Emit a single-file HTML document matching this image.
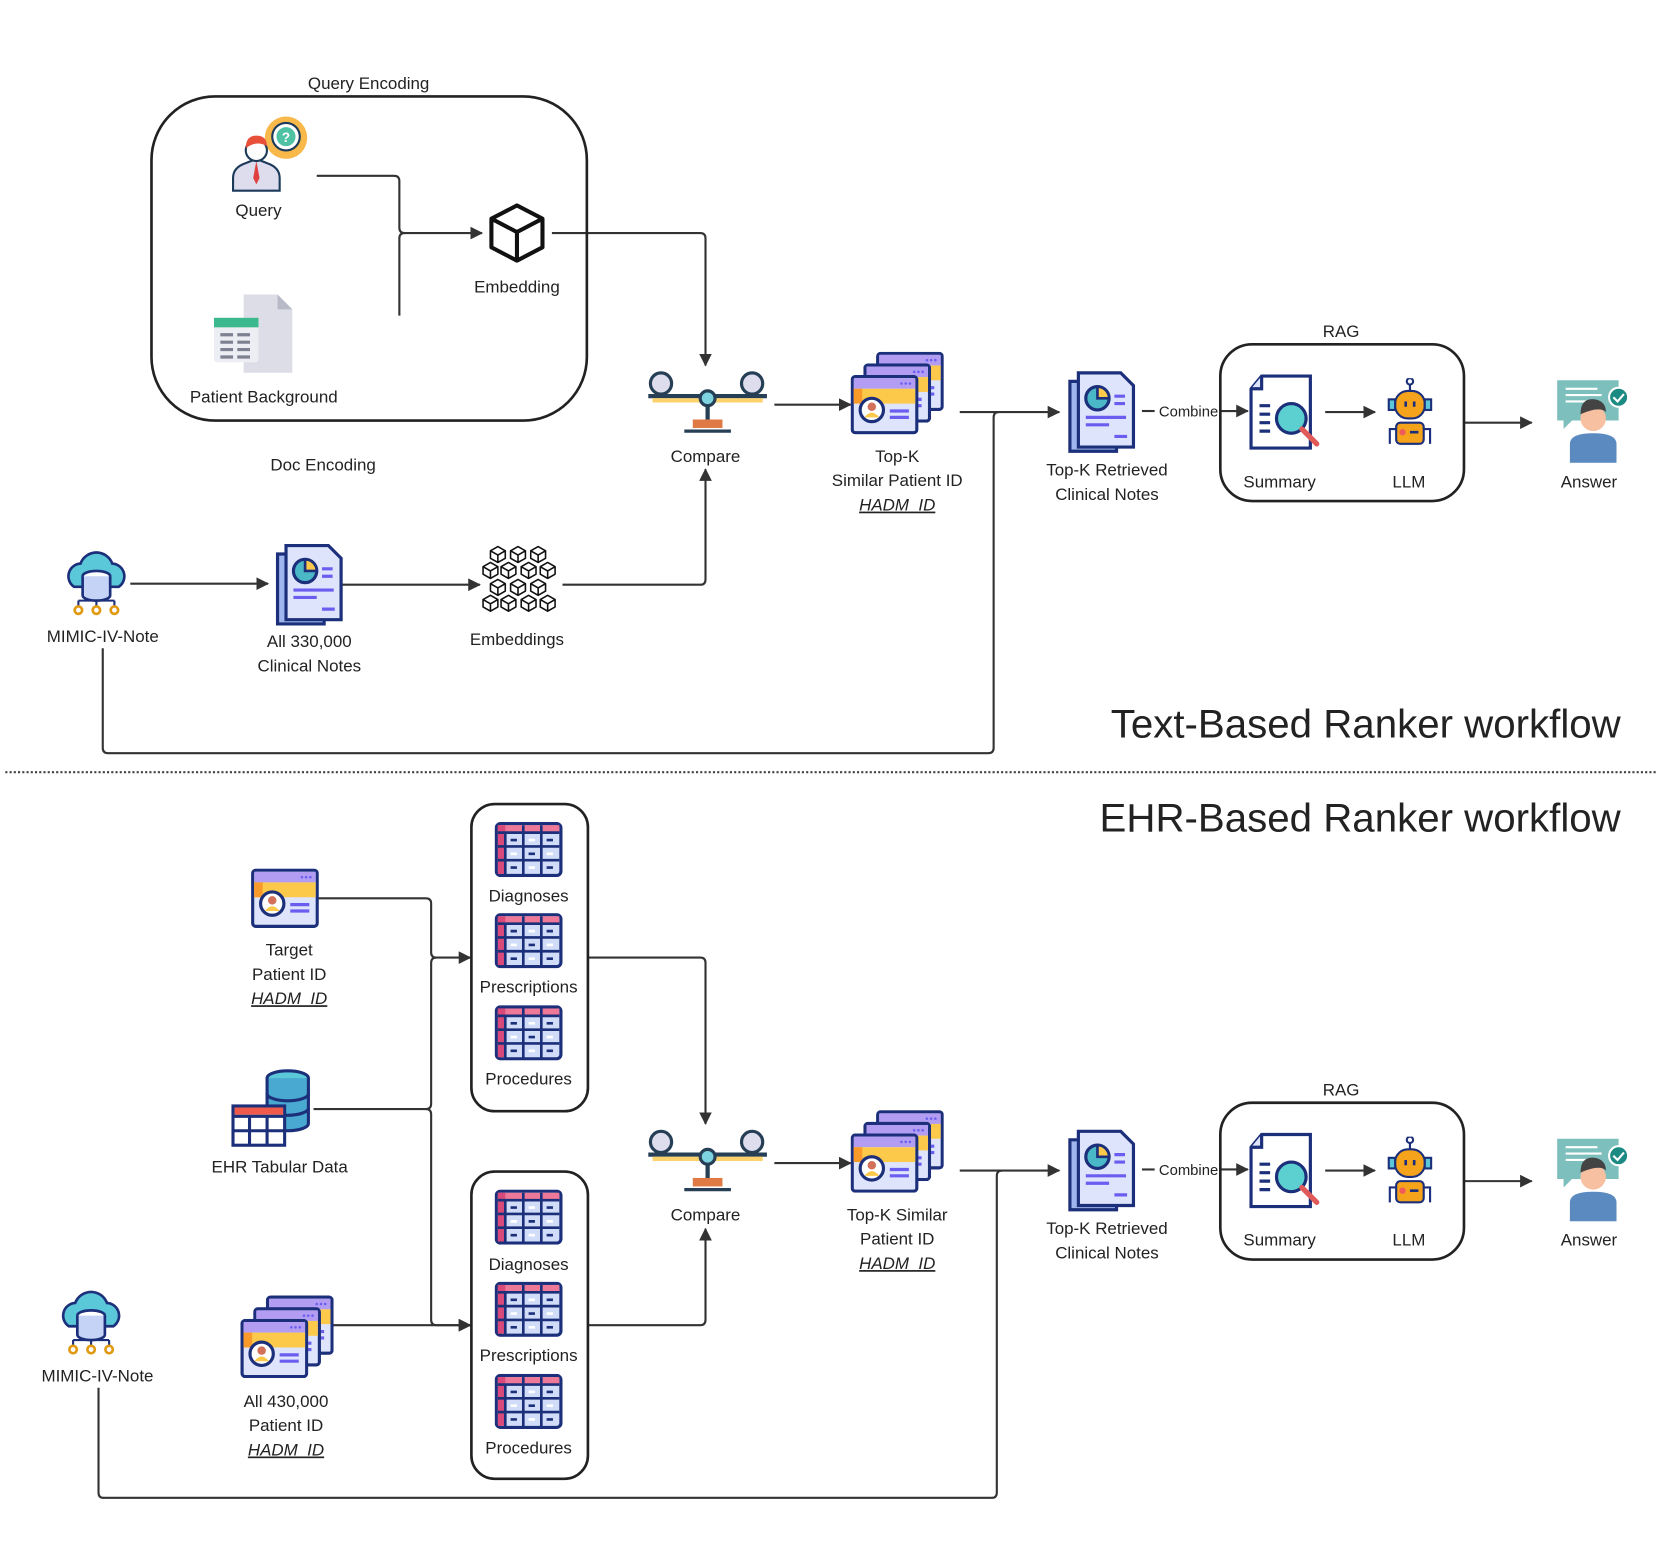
<!DOCTYPE html>
<html><head><meta charset="utf-8"><style>
html,body{margin:0;padding:0;background:#fff;}
svg{display:block;}
text{font-family:"Liberation Sans",sans-serif;fill:#222;}
</style></head><body>
<svg width="1661" height="1545" viewBox="0 0 1568 1458.5" xmlns="http://www.w3.org/2000/svg">
<defs>
<marker id="ar" markerWidth="12" markerHeight="12" refX="11" refY="6" orient="auto" markerUnits="userSpaceOnUse"><path d="M0,0 L12,6 L0,12 z" fill="#333"/></marker>
<symbol id="tbl" viewBox="0 0 64 52">
<rect x="1.5" y="1.5" width="61" height="49" rx="4" fill="#d0dcf8" stroke="#1c2f7a" stroke-width="3"/>
<rect x="3" y="3" width="58" height="7" fill="#ee7898"/>
<rect x="3" y="3" width="7" height="46" fill="#d94a7a"/>
<path d="M10 10V50M27 3V50M44 3V50M3 10H61M3 23H61M3 36H61" stroke="#1c2f7a" stroke-width="2.5" fill="none"/>
<path d="M15 17h6M32 30h6M49 17h6M15 43h6M49 43h6" stroke="#1c2f7a" stroke-width="2.5"/>
<path d="M32 17h6M15 30h6M49 30h6M32 43h6" stroke="#fff" stroke-width="2.5"/>
</symbol>
<symbol id="card" viewBox="0 0 64 56">
<rect x="1.5" y="1.5" width="61" height="53" rx="3" fill="#dde4fb" stroke="#1c2f7a" stroke-width="3"/>
<rect x="3" y="3" width="58" height="10" fill="#b39df2"/>
<rect x="3" y="13" width="58" height="14" fill="#fdc94a"/>
<rect x="3" y="13" width="8" height="14" fill="#f99a2a"/>
<circle cx="20" cy="33" r="11" fill="#fff" stroke="#1c2f7a" stroke-width="3"/>
<circle cx="20" cy="30" r="4" fill="#d2705a"/>
<path d="M13 40q7-9 14 0" fill="#fdc94a"/>
<path d="M37 34h18M37 40h18" stroke="#6a5ef0" stroke-width="3"/>
<circle cx="48" cy="8" r="1.2" fill="#6a5ef0"/><circle cx="52" cy="8" r="1.2" fill="#6a5ef0"/><circle cx="56" cy="8" r="1.2" fill="#6a5ef0"/>
</symbol>
<symbol id="stack" viewBox="0 0 88 78">
<use href="#card" x="24" y="0" width="64" height="56"/>
<use href="#card" x="12" y="11" width="64" height="56"/>
<use href="#card" x="0" y="22" width="64" height="56"/>
</symbol>
<symbol id="notes" viewBox="0 0 64 78">
<path d="M2 10h44v66H2z" fill="#9fb6ee" stroke="#1c2f7a" stroke-width="3"/>
<path d="M10 2h40l12 12v58H10z" fill="#dde4fb" stroke="#1c2f7a" stroke-width="3"/>
<circle cx="28" cy="26" r="11" fill="#4bb8c8" stroke="#1c2f7a" stroke-width="3"/>
<path d="M28 15v11h11a11 11 0 0 0-11-11z" fill="#fdc94a" stroke="#1c2f7a" stroke-width="2.5"/>
<path d="M44 24h10M44 31h10M17 44h38M17 51h22M44 62h12" stroke="#6a5ef0" stroke-width="3"/>
</symbol>
<symbol id="scale" viewBox="0 0 116 60">
<circle cx="14" cy="12" r="10" fill="#dde" stroke="#263f55" stroke-width="3"/>
<circle cx="100" cy="12" r="10" fill="#dde" stroke="#263f55" stroke-width="3"/>
<path d="M2 24h112" stroke="#263f55" stroke-width="4"/>
<path d="M6 28h104" stroke="#fdd26a" stroke-width="4"/>
<circle cx="58" cy="26" r="7" fill="#7dd3e0" stroke="#263f55" stroke-width="3"/>
<path d="M58 33v14" stroke="#263f55" stroke-width="4"/>
<rect x="44" y="46" width="28" height="8" fill="#e07a45"/>
<path d="M36 57h44" stroke="#263f55" stroke-width="3"/>
</symbol>
<symbol id="mimic" viewBox="0 0 62 62">
<path d="M10 34a12 12 0 0 1 6-22a16 16 0 0 1 30 0a12 12 0 0 1 6 22z" fill="#5ac8d8" stroke="#1c2f7a" stroke-width="2.5"/>
<ellipse cx="31" cy="24" rx="13" ry="5" fill="#fff" stroke="#1c2f7a" stroke-width="2.5"/>
<path d="M18 24v18a13 5 0 0 0 26 0V24" fill="#c5d3f7" stroke="#1c2f7a" stroke-width="2.5"/>
<path d="M31 47v6M14 47v6M48 47v6M14 47h34" stroke="#1c2f7a" stroke-width="2"/>
<circle cx="14" cy="56" r="3.5" fill="#fff" stroke="#e09a10" stroke-width="2.5"/>
<circle cx="31" cy="56" r="3.5" fill="#fff" stroke="#e09a10" stroke-width="2.5"/>
<circle cx="48" cy="56" r="3.5" fill="#fff" stroke="#e09a10" stroke-width="2.5"/>
</symbol>
<symbol id="summ" viewBox="0 0 72 72">
<path d="M12 2h46v68H2V14z" fill="#fff" stroke="#1c2f7a" stroke-width="3"/>
<path d="M2 14h10V2" fill="#dde4fb" stroke="#1c2f7a" stroke-width="3"/>
<path d="M10 30h10M10 38h10M10 46h10M10 54h10" stroke="#1c2f7a" stroke-width="3"/>
<circle cx="40" cy="42" r="14" fill="#5ccfd0" stroke="#1c2f7a" stroke-width="3"/>
<path d="M50 52l14 14" stroke="#e05a5a" stroke-width="5" stroke-linecap="round"/>
</symbol>
<symbol id="llm" viewBox="0 0 52 66">
<circle cx="26" cy="3" r="3" fill="none" stroke="#1c2f7a" stroke-width="2"/>
<path d="M26 6v6" stroke="#1c2f7a" stroke-width="2"/>
<rect x="12" y="12" width="28" height="26" rx="12" fill="#f5a31a" stroke="#1c2f7a" stroke-width="2"/>
<rect x="6" y="20" width="6" height="10" fill="#5ac8d8" stroke="#1c2f7a" stroke-width="2"/><rect x="40" y="20" width="6" height="10" fill="#5ac8d8" stroke="#1c2f7a" stroke-width="2"/>
<path d="M22 22v5M30 22v5" stroke="#1c2f7a" stroke-width="2.5"/>
<rect x="13" y="42" width="26" height="20" rx="4" fill="#f5a31a" stroke="#1c2f7a" stroke-width="2"/>
<circle cx="19" cy="51" r="3" fill="#f05a5a"/><path d="M26 51h8" stroke="#1c2f7a" stroke-width="2.5"/>
<path d="M13 48h-6v14M39 48h6v14" stroke="#1c2f7a" stroke-width="2" fill="none"/>
</symbol>
<symbol id="ans" viewBox="0 0 72 80">
<path d="M2 2h58v38H16l-8 8v-8H2z" fill="#7dbfbc"/>
<path d="M10 10h30M10 16h34M10 22h22" stroke="#fff" stroke-width="2"/>
<circle cx="60" cy="18" r="9" fill="#1a8a82" stroke="#fff" stroke-width="2"/>
<path d="M55 18l4 4 6-7" stroke="#fff" stroke-width="2" fill="none"/>
<circle cx="36" cy="38" r="12" fill="#f7c0a0"/>
<path d="M24 34q0-16 14-14q10 2 10 12q-6-6-24 2z" fill="#444"/>
<path d="M14 80V62q0-10 22-10q22 0 22 10v18z" fill="#5a8ac0"/>
</symbol>
<symbol id="cube" viewBox="0 0 56 60">
<path d="M28 3L53 16V44L28 57L3 44V16z M3 16L28 29L53 16 M28 29V57" fill="#fff" stroke="#111" stroke-width="4" stroke-linejoin="round"/>
</symbol>
<symbol id="mc" viewBox="0 0 16 17"><path d="M8 1l7 4v7l-7 4l-7-4V5z M1 5l7 4l7-4 M8 9v7" fill="#fff" stroke="#111" stroke-width="1.5" stroke-linejoin="round"/></symbol>
<symbol id="query" viewBox="0 0 74 72">
<circle cx="52" cy="20" r="20" fill="#f8b84a"/>
<circle cx="52" cy="19" r="13" fill="#fff" stroke="#1c3a5a" stroke-width="2"/>
<circle cx="52" cy="19" r="9" fill="#4fc2a4"/>
<text x="52" y="24" font-size="13" text-anchor="middle" style="fill:#fff;font-weight:bold">?</text>
<path d="M2 70V58q0-10 12-14l10-4l10 4q12 4 12 14v12z" fill="#dde" stroke="#1c3a5a" stroke-width="2"/>
<path d="M24 42l-3 16l3 6l3-6z" fill="#e04040"/>
<circle cx="24" cy="32" r="10" fill="#fff" stroke="#1c3a5a" stroke-width="2"/>
<path d="M14 30q0-12 10-12q10 0 10 10q-10-6-20 2z" fill="#e8503a"/>
</symbol>
<symbol id="pbg" viewBox="0 0 76 76">
<path d="M30 2h32l14 14v60H30z" fill="#dcdde6"/>
<path d="M62 2v14h14" fill="#b8bac8"/>
<rect x="2" y="24" width="42" height="42" rx="3" fill="#eceef4"/>
<rect x="2" y="24" width="42" height="9" fill="#3cb88e"/>
<path d="M8 40h12M24 40h12M8 47h12M24 47h12M8 54h12M24 54h12M8 61h12M24 61h12" stroke="#7d8190" stroke-width="3"/>
</symbol>
<symbol id="ehr" viewBox="0 0 80 76">
<ellipse cx="55" cy="9" rx="20" ry="7" fill="#5ac8d8" stroke="#1c2f7a" stroke-width="3"/>
<path d="M35 9v44a20 7 0 0 0 40 0V9" fill="#4aa9d0" stroke="#1c2f7a" stroke-width="3"/>
<path d="M35 24a20 7 0 0 0 40 0M35 38a20 7 0 0 0 40 0" fill="none" stroke="#1c2f7a" stroke-width="3"/>
<rect x="2" y="36" width="50" height="38" fill="#fff" stroke="#1c2f7a" stroke-width="3"/>
<rect x="3.5" y="37.5" width="47" height="7" fill="#f05a4a"/>
<path d="M2 46h50M2 60h50M18 46v28M35 46v28" stroke="#1c2f7a" stroke-width="3"/>
</symbol>
</defs>

<g fill="none" stroke="#333" stroke-width="2">
<path d="M299 166H372q5 0 5 5V215q0 5 5 5H455" marker-end="url(#ar)"/>
<path d="M377 298V225q0-5 5-5"/>
<path d="M521 220H661q5 0 5 5V345" marker-end="url(#ar)"/>
<path d="M731 382H803" marker-end="url(#ar)"/>
<path d="M906 389H1000" marker-end="url(#ar)"/>
<path d="M97 612V706q0 5 5 5H933q5 0 5-5V394q0-5 5-5"/>
<path d="M1078 388H1090"/>
<path d="M1152 388H1178" marker-end="url(#ar)"/>
<path d="M1251 389H1298" marker-end="url(#ar)"/>
<path d="M1383 399H1446" marker-end="url(#ar)"/>
<path d="M123 551H253" marker-end="url(#ar)"/>
<path d="M323 552H453" marker-end="url(#ar)"/>
<path d="M531 552H661q5 0 5-5V443" marker-end="url(#ar)"/>
<path d="M300 848H402q5 0 5 5V899q0 5 5 5H444" marker-end="url(#ar)"/>
<path d="M296 1047H402q5 0 5-5V909q0-5 5-5"/>
<path d="M402 1047q5 0 5 5V1246q0 5 5 5H444" marker-end="url(#ar)"/>
<path d="M314 1251H444" marker-end="url(#ar)"/>
<path d="M555 904H661q5 0 5 5V1061" marker-end="url(#ar)"/>
<path d="M555 1251H661q5 0 5-5V1160" marker-end="url(#ar)"/>
<path d="M731 1098H803" marker-end="url(#ar)"/>
<path d="M906 1105H1000" marker-end="url(#ar)"/>
<path d="M93 1310V1409q0 5 5 5H936q5 0 5-5V1110q0-5 5-5"/>
<path d="M1078 1104H1090"/>
<path d="M1152 1104H1178" marker-end="url(#ar)"/>
<path d="M1251 1105H1298" marker-end="url(#ar)"/>
<path d="M1383 1115H1446" marker-end="url(#ar)"/>
</g>
<g fill="none" stroke="#222" stroke-width="2.5">
<rect x="143" y="91" width="411" height="306" rx="60"/>
<rect x="1152" y="325" width="230" height="148" rx="30"/>
<rect x="1152" y="1041" width="230" height="148" rx="30"/>
<rect x="445" y="759" width="110" height="290" rx="22"/>
<rect x="445" y="1106" width="110" height="290" rx="22"/>
</g>
<path d="M5 729H1565" stroke="#444" stroke-width="2" stroke-dasharray="2 2"/>

<use href="#query" x="218" y="110" width="74" height="72"/>
<use href="#pbg" x="200" y="276" width="76" height="76"/>
<use href="#cube" x="461" y="191" width="54" height="58"/>
<use href="#scale" x="610" y="350" width="116" height="60"/>
<use href="#stack" x="803" y="332" width="88" height="78"/>
<use href="#notes" x="1008" y="350" width="64" height="78"/>
<use href="#summ" x="1179" y="353" width="72" height="72"/>
<use href="#llm" x="1305" y="357" width="52" height="66"/>
<use href="#ans" x="1468" y="357" width="72" height="80"/>
<use href="#mimic" x="60" y="520" width="62" height="62"/>
<use href="#notes" x="260" y="513" width="64" height="78"/>
<g>
<use href="#mc" x="462" y="515" width="16" height="17"/><use href="#mc" x="481" y="515" width="16" height="17"/><use href="#mc" x="500" y="515" width="16" height="17"/>
<use href="#mc" x="455" y="530" width="16" height="17"/><use href="#mc" x="472" y="530" width="16" height="17"/><use href="#mc" x="491" y="530" width="16" height="17"/><use href="#mc" x="509" y="530" width="16" height="17"/>
<use href="#mc" x="462" y="546" width="16" height="17"/><use href="#mc" x="481" y="546" width="16" height="17"/><use href="#mc" x="500" y="546" width="16" height="17"/>
<use href="#mc" x="455" y="561" width="16" height="17"/><use href="#mc" x="472" y="561" width="16" height="17"/><use href="#mc" x="491" y="561" width="16" height="17"/><use href="#mc" x="509" y="561" width="16" height="17"/>
</g>

<use href="#card" x="237" y="820" width="64" height="56"/>
<use href="#ehr" x="218" y="1008" width="78" height="76"/>
<use href="#mimic" x="55" y="1218" width="62" height="62"/>
<use href="#stack" x="227" y="1223" width="88" height="78"/>
<use href="#tbl" x="467" y="776" width="64" height="52"/>
<use href="#tbl" x="467" y="862" width="64" height="52"/>
<use href="#tbl" x="467" y="949" width="64" height="52"/>
<use href="#tbl" x="467" y="1123" width="64" height="52"/>
<use href="#tbl" x="467" y="1210" width="64" height="52"/>
<use href="#tbl" x="467" y="1297" width="64" height="52"/>
<use href="#scale" x="610" y="1066" width="116" height="60"/>
<use href="#stack" x="803" y="1048" width="88" height="78"/>
<use href="#notes" x="1008" y="1066" width="64" height="78"/>
<use href="#summ" x="1179" y="1069" width="72" height="72"/>
<use href="#llm" x="1305" y="1073" width="52" height="66"/>
<use href="#ans" x="1468" y="1073" width="72" height="80"/>

<g font-size="16" text-anchor="middle">
<text x="348" y="84">Query Encoding</text>
<text x="244" y="204">Query</text>
<text x="249" y="380">Patient Background</text>
<text x="488" y="276">Embedding</text>
<text x="305" y="444">Doc Encoding</text>
<text x="666" y="436">Compare</text>
<text x="847" y="436">Top-K</text>
<text x="847" y="459">Similar Patient ID</text>
<text x="847" y="482" font-style="italic" text-decoration="underline">HADM_ID</text>
<text x="1045" y="449">Top-K Retrieved</text>
<text x="1045" y="472">Clinical Notes</text>
<text x="1122" y="393" font-size="14">Combine</text>
<text x="1266" y="318">RAG</text>
<text x="1208" y="460">Summary</text>
<text x="1330" y="460">LLM</text>
<text x="1500" y="460">Answer</text>
<text x="97" y="606">MIMIC-IV-Note</text>
<text x="292" y="611">All 330,000</text>
<text x="292" y="634">Clinical Notes</text>
<text x="488" y="609">Embeddings</text>

<text x="273" y="902">Target</text>
<text x="273" y="925">Patient ID</text>
<text x="273" y="948" font-style="italic" text-decoration="underline">HADM_ID</text>
<text x="264" y="1107">EHR Tabular Data</text>
<text x="92" y="1304">MIMIC-IV-Note</text>
<text x="270" y="1328">All 430,000</text>
<text x="270" y="1351">Patient ID</text>
<text x="270" y="1374" font-style="italic" text-decoration="underline">HADM_ID</text>
<text x="499" y="851">Diagnoses</text>
<text x="499" y="937">Prescriptions</text>
<text x="499" y="1024">Procedures</text>
<text x="499" y="1199">Diagnoses</text>
<text x="499" y="1285">Prescriptions</text>
<text x="499" y="1372">Procedures</text>
<text x="666" y="1152">Compare</text>
<text x="847" y="1152">Top-K Similar</text>
<text x="847" y="1175">Patient ID</text>
<text x="847" y="1198" font-style="italic" text-decoration="underline">HADM_ID</text>
<text x="1045" y="1165">Top-K Retrieved</text>
<text x="1045" y="1188">Clinical Notes</text>
<text x="1122" y="1109" font-size="14">Combine</text>
<text x="1266" y="1034">RAG</text>
<text x="1208" y="1176">Summary</text>
<text x="1330" y="1176">LLM</text>
<text x="1500" y="1176">Answer</text>
</g>
<text x="1530" y="696" font-size="38" text-anchor="end">Text-Based Ranker workflow</text>
<text x="1530" y="785" font-size="38" text-anchor="end">EHR-Based Ranker workflow</text>
</svg>
</body></html>
